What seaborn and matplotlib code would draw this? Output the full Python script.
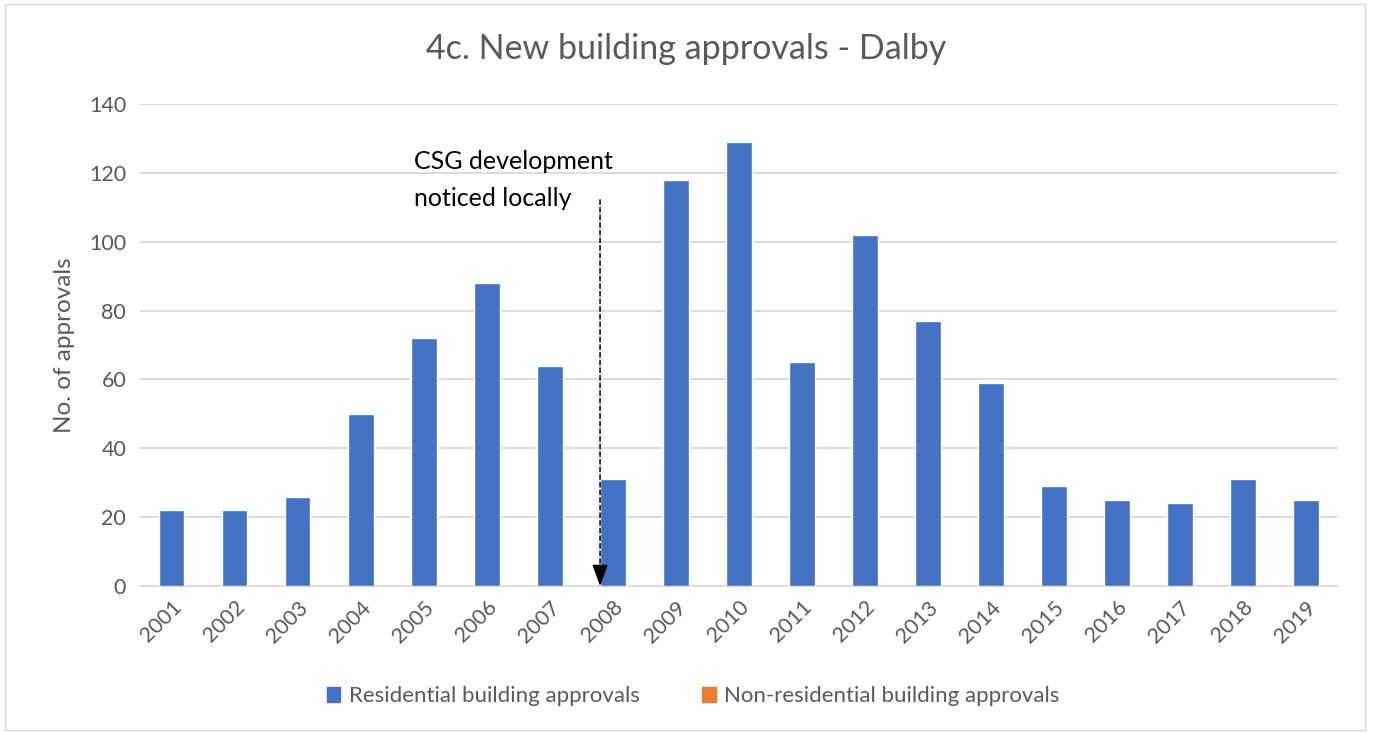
import numpy as np
import pandas as pd
import matplotlib
matplotlib.use("Agg")
import matplotlib.pyplot as plt
import matplotlib.patches as mpatches
import seaborn as sns

# data
years = [str(y) for y in range(2001, 2020)]
residential = [22, 22, 26, 50, 72, 88, 64, 31, 118, 129, 65, 102, 77, 59, 29, 25, 24, 31, 25]
series_names = ["Residential building approvals", "Non-residential building approvals"]
series_colors = ["#4472C4", "#ED7D31"]
y_ticks = [0, 20, 40, 60, 80, 100, 120, 140]
note_text = "CSG development\nnoticed locally"

df = pd.DataFrame({"year": years, "approvals": residential})

sns.set_theme(style="white")
plt.rcParams["font.family"] = ["Lato", "DejaVu Sans"]
grey = "#595959"

fig = plt.figure(figsize=(13.73, 7.33), dpi=100)
ax = fig.add_axes([0.102, 0.2005, 0.872, 0.6575])

sns.barplot(data=df, x="year", y="approvals", color=series_colors[0],
            saturation=1, width=0.41, ax=ax, zorder=3)

ax.set_xlim(-0.5, len(years) - 0.5)
ax.set_ylim(0, 140)
ax.set_yticks(y_ticks)
ax.yaxis.grid(True, color="#d9d9d9", linewidth=1.3, zorder=0)
ax.xaxis.grid(False)
for s in ["top", "right", "left"]:
    ax.spines[s].set_visible(False)
ax.spines["bottom"].set_color("#d9d9d9")
ax.spines["bottom"].set_linewidth(1.3)
ax.tick_params(axis="y", length=0, labelsize=15.5, colors=grey, pad=10)
ax.tick_params(axis="x", length=0, labelsize=15.5, colors=grey, pad=8)
plt.setp(ax.get_xticklabels(), rotation=45, ha="right", rotation_mode="anchor")
ax.set_xlabel("")
ax.set_ylabel("No. of approvals", fontsize=17.5, color=grey, labelpad=10)

fig.suptitle("4c. New building approvals - Dalby", fontsize=24.5, color=grey, y=0.955)

# annotation arrow: dashed shaft plus solid head
ax.annotate("", xy=(6.8, 4), xytext=(6.8, 113),
            arrowprops=dict(arrowstyle="-", linestyle=(0, (3, 2)), color="black", lw=1.1),
            zorder=5)
ax.annotate("", xy=(6.8, 0), xytext=(6.8, 5),
            arrowprops=dict(arrowstyle="-|>,head_width=0.4,head_length=1.1",
                            color="black", lw=1.1, shrinkA=0, shrinkB=0),
            zorder=5)
ax.text(3.85, 118, note_text, fontsize=18, color="black",
        va="center", ha="left", linespacing=1.75, zorder=5)

handles = [mpatches.Patch(color=c, label=n) for c, n in zip(series_colors, series_names)]
fig.legend(handles=handles, loc="center", bbox_to_anchor=(0.505, 0.05), ncol=2,
           frameon=False, fontsize=16, labelcolor=grey, handlelength=0.6,
           handleheight=0.6, handletextpad=0.4, columnspacing=2.8)

# chart area border
fig.patches.append(mpatches.Rectangle((0.004, 0.004), 0.99, 0.99, transform=fig.transFigure,
                                      fill=False, edgecolor="#d9d9d9", linewidth=1))

fig.savefig("out.png", dpi=100)
